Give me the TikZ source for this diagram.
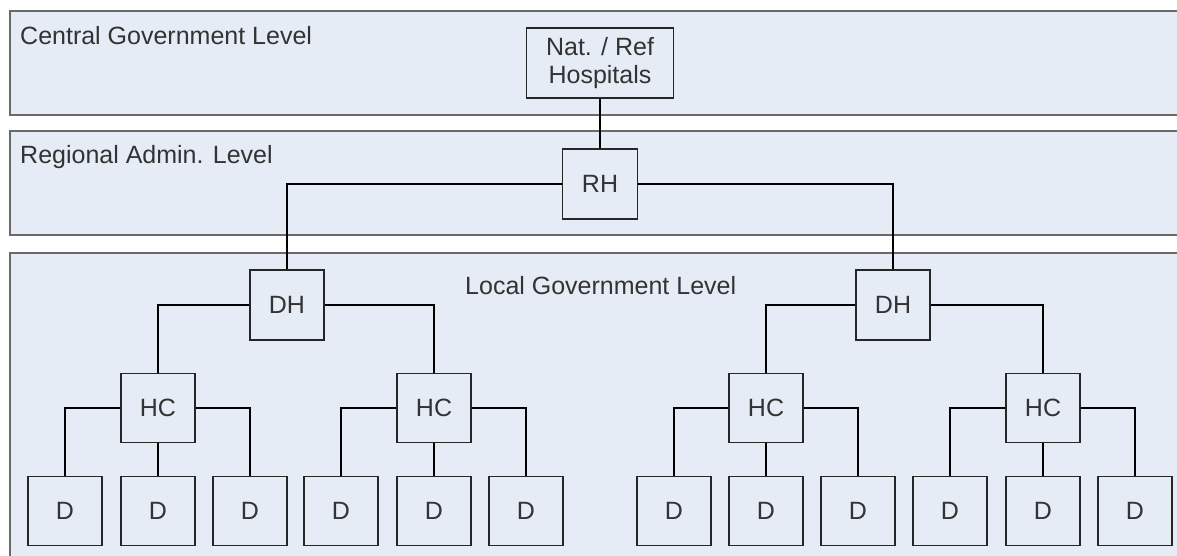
\documentclass[tikz,border=0pt]{standalone}
\usepackage{fontspec}
\setmainfont{Liberation Sans}
\definecolor{bandfill}{HTML}{E6ECF6}
\definecolor{bandline}{HTML}{6A6A6A}
\definecolor{txt}{HTML}{333333}
\begin{document}
\begin{tikzpicture}[x=1pt,y=-1pt,
		band/.style={draw=bandline,fill=bandfill,line width=2.4pt},
		lvl/.style={anchor=base west,text=txt,inner sep=0pt,font=\fontsize{25}{28}\selectfont},
		unit/.style={draw=black!85,line width=1.9pt,fill=bandfill,inner sep=0pt,minimum width=74pt,minimum height=69pt,text=txt,font=\fontsize{25}{28}\selectfont,align=center},
		link/.style={black,line width=2.4pt}]
		\useasboundingbox (0,0) rectangle (1177,556);
		%draw the three level bands
		\draw[band] (10,11) rectangle (1195,115);
		\draw[band] (10,131) rectangle (1195,235);
		\draw[band] (10,253) rectangle (1195,580);
        
		\node[lvl] (lvlC) at (20,45) {Central Government Level};
		\node[lvl] (lvlR) at (20,164) {Regional Admin. Level};
		\node[lvl] (lvlL) at (465,294) {Local Government Level};
        
		%hospitals
		\node[unit,minimum width=147pt,minimum height=70pt] (nat) at (600,63) {Nat. / Ref\\Hospitals};
		\node[unit,minimum width=75pt,minimum height=70pt] (rh) at (600,184) {RH};
		\node[unit,minimum height=70pt] (dhL) at (287,305) {DH};
		\node[unit,minimum height=70pt] (dhR) at (893,305) {DH};
        
		%health centres
		\node[unit] (hc1) at (158,408) {HC};
		\node[unit] (hc2) at (434,408) {HC};
		\node[unit] (hc3) at (766,408) {HC};
		\node[unit] (hc4) at (1043,408) {HC};
        
		%dispensaries
		\foreach \i/\x in {1/65,2/158,3/250,4/341,5/434,6/526,7/674,8/766,9/858,10/950,11/1043,12/1135}
			\node[unit] (d\i) at (\x,511) {D};
        
		%connectors
		\draw[link] (nat) -- (rh);
		\draw[link] (rh.west) -| (dhL.north);
		\draw[link] (rh.east) -| (dhR.north);
		\draw[link] (dhL.west) -| (hc1.north);
		\draw[link] (dhL.east) -| (hc2.north);
		\draw[link] (dhR.west) -| (hc3.north);
		\draw[link] (dhR.east) -| (hc4.north);
		\draw[link] (hc1.west) -| (d1.north);
		\draw[link] (hc1) -- (d2);
		\draw[link] (hc1.east) -| (d3.north);
		\draw[link] (hc2.west) -| (d4.north);
		\draw[link] (hc2) -- (d5);
		\draw[link] (hc2.east) -| (d6.north);
		\draw[link] (hc3.west) -| (d7.north);
		\draw[link] (hc3) -- (d8);
		\draw[link] (hc3.east) -| (d9.north);
		\draw[link] (hc4.west) -| (d10.north);
		\draw[link] (hc4) -- (d11);
		\draw[link] (hc4.east) -| (d12.north);
        
	\end{tikzpicture}
\end{document}
